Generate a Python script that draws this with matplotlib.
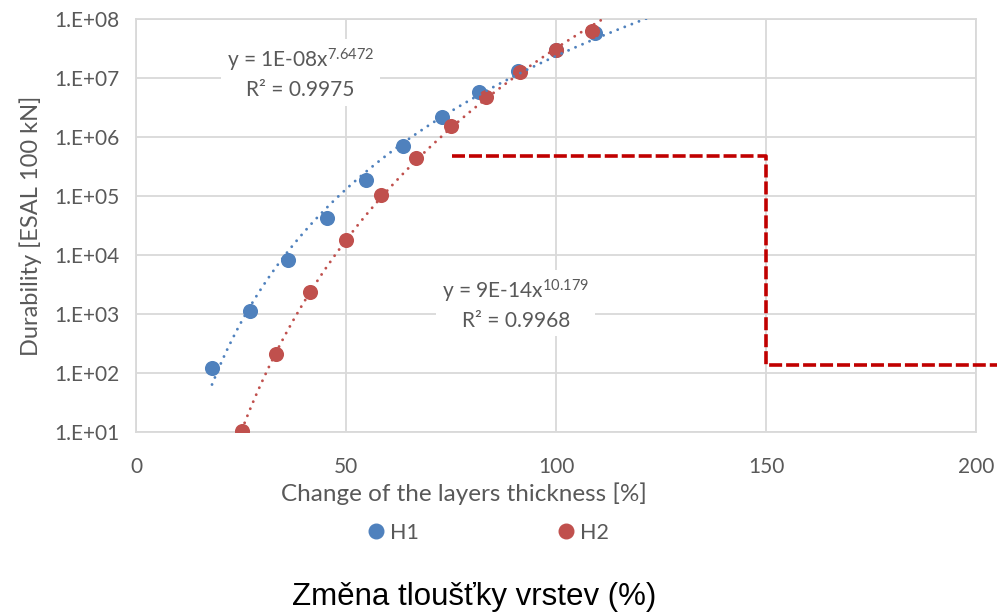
import numpy as np
import matplotlib.pyplot as plt
from matplotlib.lines import Line2D
from matplotlib.ticker import NullLocator

plt.rcParams['font.family'] = ['Lato', 'DejaVu Sans']
plt.rcParams['mathtext.fontset'] = 'custom'
plt.rcParams['mathtext.rm'] = 'Lato'
plt.rcParams['mathtext.it'] = 'Lato:italic'

# Durability vs. change of layer thickness
h1_x = [18.1, 27.2, 36.1, 45.5, 54.7, 63.5, 72.8, 81.7, 90.9, 100.0, 109.3]
h1_y = [124, 1150, 8190, 42200, 190000, 706000, 2.16e6, 5.74e6, 1.32e7, 2.95e7, 5.86e7]
h2_x = [25.2, 33.3, 41.5, 50.1, 58.3, 66.6, 75.1, 83.3, 91.4, 100.0, 108.5]
h2_y = [10.5, 209, 2350, 18000, 103000, 448000, 1.56e6, 4.83e6, 1.25e7, 2.95e7, 6.34e7]

# limit line (dashed step)
limit_x = [75.3, 150, 150, 205]
limit_y = [4.8e5, 4.8e5, 1.4e2, 1.4e2]

x_ticks = [0, 50, 100, 150, 200]
y_exps = list(range(1, 9))

eq_h1 = 'y = 1E-08x$^{7.6472}$\nR² = 0.9975'
eq_h2 = 'y = 9E-14x$^{10.179}$\nR² = 0.9968'

c_h1 = '#4F81BD'
c_h2 = '#C0504D'
grey = '#595959'
grid_c = '#d9d9d9'


def power_fit(x, y):
    b, loga = np.polyfit(np.log10(x), np.log10(y), 1)
    return 10 ** loga, b


fig = plt.figure(figsize=(9.98, 6.14), dpi=100)
ax = fig.add_axes([136 / 998, 1 - 432.3 / 614, 840 / 998, 413.3 / 614])
ax.set_yscale('log')
ax.set_xlim(0, 200)
ax.set_ylim(10, 1e8)
ax.set_xticks(x_ticks)
ax.set_xticklabels([str(t) for t in x_ticks])
ax.set_yticks([10.0 ** k for k in y_exps])
ax.set_yticklabels(['1.E+%02d' % k for k in y_exps])
ax.yaxis.set_minor_locator(NullLocator())
ax.tick_params(length=0, labelsize=15, colors=grey)
ax.tick_params(axis='x', pad=18)
ax.tick_params(axis='y', pad=12)
ax.grid(True, color=grid_c, lw=1.3)
ax.set_axisbelow(True)
for s in ax.spines.values():
    s.set_color(grid_c)
    s.set_linewidth(1.3)

ax.scatter(h1_x, h1_y, s=118, color=c_h1, zorder=3, linewidths=0)
ax.scatter(h2_x, h2_y, s=118, color=c_h2, zorder=3, linewidths=0)

# power trendlines
for xs, ys, col in [(h1_x, h1_y, c_h1), (h2_x, h2_y, c_h2)]:
    a, b = power_fit(xs, ys)
    xt = np.linspace(min(xs), 140, 300)
    ax.plot(xt, a * xt ** b, color=col, lw=2.1, ls=(0, (0.01, 2.6)),
            dash_capstyle='round', zorder=4)

ax.plot(limit_x, limit_y, color='#C00000', lw=2.6, ls=(0, (3.6, 1.1)),
        clip_on=False, zorder=5)

box = dict(facecolor='white', edgecolor='none', pad=4)
ax.text(0.196, 0.868, eq_h1, transform=ax.transAxes, ha='center', va='center',
        fontsize=15, color=grey, bbox=box, linespacing=1.35, zorder=6)
ax.text(0.452, 0.31, eq_h2, transform=ax.transAxes, ha='center', va='center',
        fontsize=15, color=grey, bbox=box, linespacing=1.35, zorder=6)

fig.text(31 / 998, 1 - 226 / 614, 'Durability [ESAL 100 kN]', rotation=90,
         ha='center', va='center', fontsize=17, color=grey)
fig.text(464 / 998, 1 - 494 / 614, 'Change of the layers thickness [%]',
         ha='center', va='center', fontsize=17.5, color=grey)

handles = [Line2D([], [], marker='o', ls='', color=c_h1, markersize=10.5),
           Line2D([], [], marker='o', ls='', color=c_h2, markersize=10.5)]
leg = fig.legend(handles, ['H1', 'H2'], loc='center', ncol=2, frameon=False,
                 bbox_to_anchor=(487 / 998, 1 - 533 / 614), fontsize=15.5,
                 handletextpad=0.15, columnspacing=6.3, handlelength=1.0)
for t in leg.get_texts():
    t.set_color(grey)

fig.text(474 / 998, 1 - 605 / 614, 'Změna tloušťky vrstev (%)', ha='center', va='baseline',
         fontsize=22.5, color='black', family=['Liberation Sans', 'DejaVu Sans'])

fig.savefig('out.png', dpi=100)
